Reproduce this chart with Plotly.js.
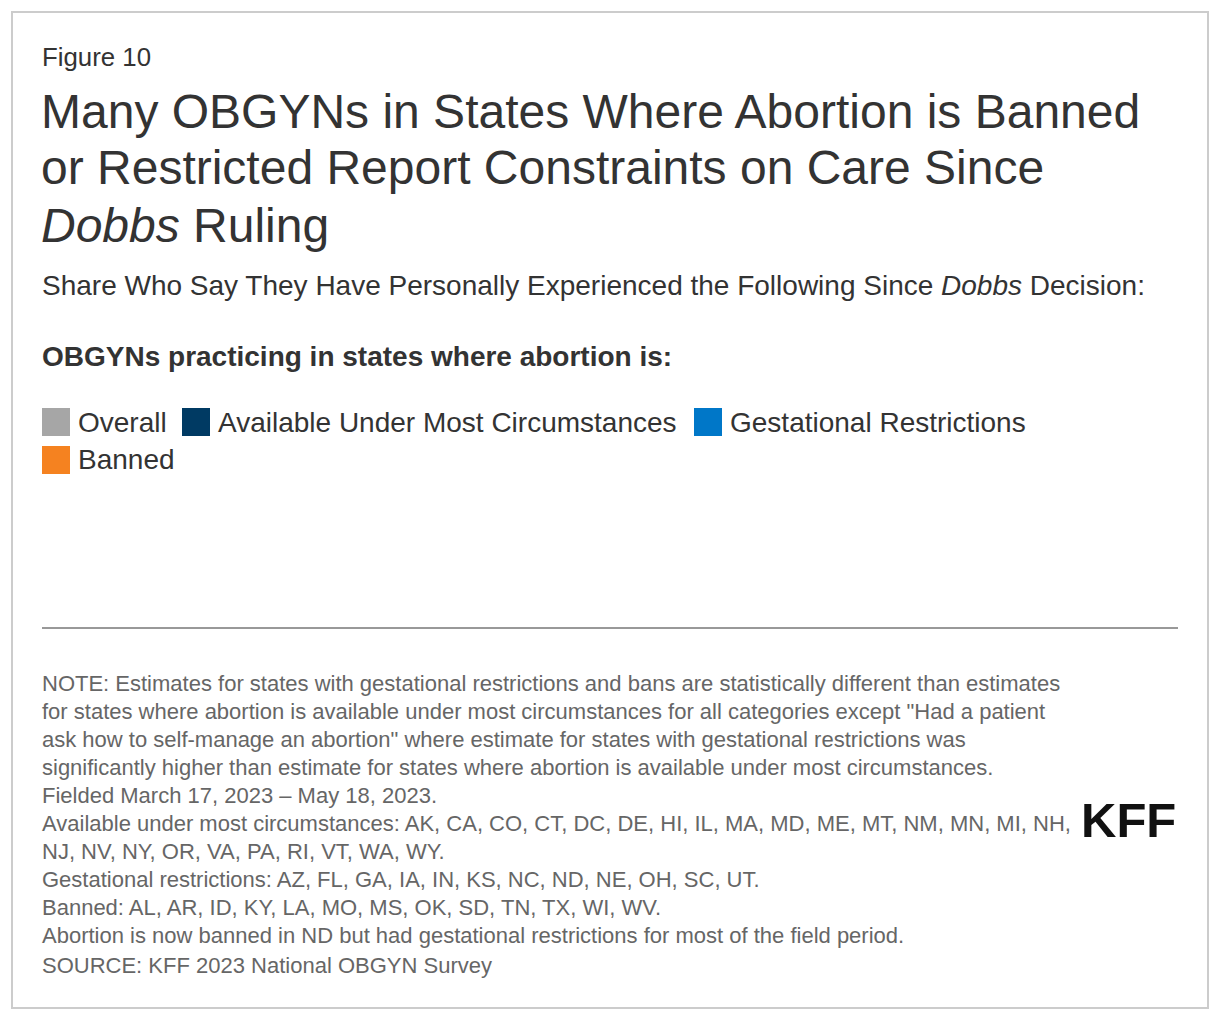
<!DOCTYPE html>
<html>
<head>
<meta charset="utf-8">
<script src="https://cdn.plot.ly/plotly-3.0.1.min.js"></script>
<style>
  html, body { margin: 0; padding: 0; background: #fff; }
  #chart { width: 1220px; height: 1020px; }
</style>
</head>
<body>
<div id="chart"></div>
<script>
// series shown in the legend (no bars are drawn in the figure)
const seriesNames = ['Overall', 'Available Under Most Circumstances', 'Gestational Restrictions', 'Banned'];
const seriesColors = ['#a6a6a6', '#003a63', '#0077c8', '#f58220'];
const categories = [];
const overallValues = [];
const availableValues = [];
const gestationalValues = [];
const bannedValues = [];

const figureLabel = 'Figure 10';
const titleLines = [
  'Many OBGYNs in States Where Abortion is Banned',
  'or Restricted Report Constraints on Care Since',
  '<i>Dobbs</i> Ruling'
];
const subtitleText = 'Share Who Say They Have Personally Experienced the Following Since <i>Dobbs</i> Decision:';
const legendHeading = '<b>OBGYNs practicing in states where abortion is:</b>';
const noteLines = [
  'NOTE: Estimates for states with gestational restrictions and bans are statistically different than estimates',
  'for states where abortion is available under most circumstances for all categories except "Had a patient',
  'ask how to self-manage an abortion" where estimate for states with gestational restrictions was',
  'significantly higher than estimate for states where abortion is available under most circumstances.',
  'Fielded March 17, 2023 \u2013 May 18, 2023.',
  'Available under most circumstances: AK, CA, CO, CT, DC, DE, HI, IL, MA, MD, ME, MT, NM, MN, MI, NH,',
  'NJ, NV, NY, OR, VA, PA, RI, VT, WA, WY.',
  'Gestational restrictions: AZ, FL, GA, IA, IN, KS, NC, ND, NE, OH, SC, UT.',
  'Banned: AL, AR, ID, KY, LA, MO, MS, OK, SD, TN, TX, WI, WV.',
  'Abortion is now banned in ND but had gestational restrictions for most of the field period.',
  'SOURCE: KFF 2023 National OBGYN Survey'
];

const W = 1220, H = 1020;
const px = x => x / W;
const py = y => 1 - y / H;
const FONT = '"Liberation Sans", Arial, sans-serif';

const seriesValues = [overallValues, availableValues, gestationalValues, bannedValues];
const data = seriesNames.map((name, i) => ({
  type: 'bar',
  orientation: 'h',
  name: name,
  x: seriesValues[i],
  y: categories,
  marker: {color: seriesColors[i]},
  showlegend: false
}));

const annotations = [];
const shapes = [];

function text(t, x, y, size, color) {
  annotations.push({
    text: t, xref: 'paper', yref: 'paper', x: px(x), y: py(y),
    xanchor: 'left', yanchor: 'middle', showarrow: false, align: 'left',
    font: {family: FONT, size: size, color: color}
  });
}

text(figureLabel, 40, 57, 25.8, '#333');
titleLines.forEach((line, i) => text(line, 39, 111 + i * 57, 48, '#333'));
text(subtitleText, 40, 285, 28, '#333');
text(legendHeading, 40, 356, 28, '#333');

// legend: 28px swatches laid out in rows
const legendRows = [[0, 1, 2], [3]];
const swatchX = [42, 182, 694];
legendRows.forEach((row, r) => {
  const cy = 422 + r * 38;
  row.forEach((k, j) => {
    const x0 = swatchX[j];
    shapes.push({type: 'rect', xref: 'paper', yref: 'paper',
      x0: px(x0), x1: px(x0 + 28), y0: py(cy - 14), y1: py(cy + 14),
      line: {width: 0}, fillcolor: seriesColors[k]});
    text(seriesNames[k], x0 + 34, cy, 28, '#333');
  });
});

// rule above notes
shapes.push({type: 'line', xref: 'paper', yref: 'paper',
  x0: px(42), x1: px(1178), y0: py(628), y1: py(628),
  line: {color: '#333', width: 1}});

noteLines.forEach((line, i) => {
  const y = 683 + i * 28 + (i === noteLines.length - 1 ? 2 : 0);
  text(line, 40, y, 22, '#666');
});

// KFF wordmark
text('<b>KFF</b>', 1079, 820, 49, '#111');

// outer frame
shapes.push({type: 'rect', xref: 'paper', yref: 'paper',
  x0: px(12), x1: px(1208), y0: py(1008), y1: py(12),
  line: {color: '#cccccc', width: 2}});

const layout = {
  width: W, height: H,
  margin: {l: 0, r: 0, t: 0, b: 0},
  paper_bgcolor: '#fff', plot_bgcolor: '#fff',
  showlegend: false,
  xaxis: {visible: false, domain: [0.035, 0.965], range: [0, 100]},
  yaxis: {visible: false, domain: [0.4, 0.52]},
  annotations: annotations,
  shapes: shapes
};

Plotly.newPlot('chart', data, layout, {displayModeBar: false, staticPlot: true});
</script>
</body>
</html>
